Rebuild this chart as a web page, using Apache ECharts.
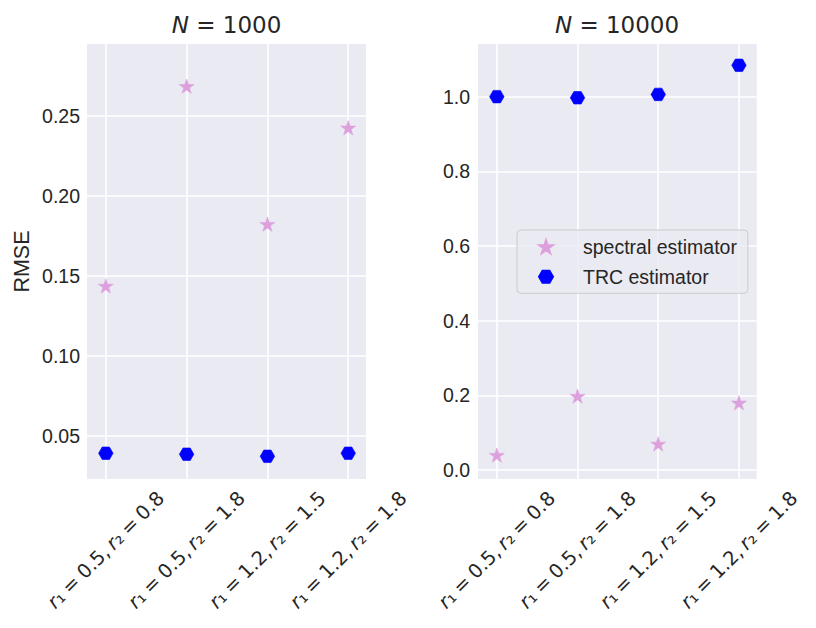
<!DOCTYPE html>
<html>
<head>
<meta charset="utf-8">
<script src="https://cdn.jsdelivr.net/npm/echarts@6/dist/echarts.min.js"></script>
<style>
html,body{margin:0;padding:0;background:#fff;}
#c{width:816px;height:628px;}
</style>
</head>
<body>
<div id="c"></div>
<script>
// ---- data ----
var categories = ['r1=0.5,r2=0.8', 'r1=0.5,r2=1.8', 'r1=1.2,r2=1.5', 'r1=1.2,r2=1.8'];
var tickLabels = [
  '{i|r}\u2081\u2005=\u20050.5,\u2009{i|r}\u2082\u2005=\u20050.8',
  '{i|r}\u2081\u2005=\u20050.5,\u2009{i|r}\u2082\u2005=\u20051.8',
  '{i|r}\u2081\u2005=\u20051.2,\u2009{i|r}\u2082\u2005=\u20051.5',
  '{i|r}\u2081\u2005=\u20051.2,\u2009{i|r}\u2082\u2005=\u20051.8'
];
var seriesNames = ['spectral estimator', 'TRC estimator'];
var panelTitles = ['{i|N} = 1000', '{i|N} = 10000'];
var spectral1000 = [0.1437, 0.2686, 0.1823, 0.2426];
var trc1000 = [0.0390, 0.0384, 0.0371, 0.0390];
var spectral10000 = [0.040, 0.198, 0.070, 0.180];
var trc10000 = [1.000, 0.997, 1.006, 1.084];
var yTicksLeft = [0.05, 0.10, 0.15, 0.20, 0.25];
var yTicksRight = [0.0, 0.2, 0.4, 0.6, 0.8, 1.0];

// ---- styling ----
var TXT = '#262626';
var BG = '#EAEAF2';
var STAR = 'path://M0,-100L22.45,-30.9L95.1,-30.9L36.3,11.8L58.8,80.9L0,38.2L-58.8,80.9L-36.3,11.8L-95.1,-30.9L-22.45,-30.9Z';
var HEX = 'path://M-100,0L-50,-86.6L50,-86.6L100,0L50,86.6L-50,86.6Z';
var xIdx = categories.map(function (_, i) { return i; });

function pairs(vals) { return vals.map(function (v, i) { return [i, v]; }); }

function xAxis(gi) {
  return {
    type: 'value', gridIndex: gi, min: -0.233, max: 3.22,
    axisLine: { show: false },
    axisTick: { show: false, customValues: xIdx },
    splitLine: { show: true, lineStyle: { color: '#ffffff', width: 1.6 } },
    axisLabel: {
      customValues: xIdx,
      rotate: 45, align: 'center', verticalAlign: 'middle', margin: 71,
      color: TXT, fontFamily: 'DejaVu Sans', fontSize: 19.5,
      formatter: function (v) { return tickLabels[Math.round(v)]; },
      rich: { i: { fontStyle: 'italic', fontFamily: 'DejaVu Sans', fontSize: 19.5, color: TXT } }
    }
  };
}
function yAxis(gi, min, max, ticks, dec, margin) {
  return {
    type: 'value', gridIndex: gi, min: min, max: max,
    axisLine: { show: false },
    axisTick: { show: false, customValues: ticks },
    splitLine: { show: true, lineStyle: { color: '#ffffff', width: 1.6 } },
    axisLabel: {
      customValues: ticks, margin: margin,
      color: TXT, fontFamily: 'Liberation Sans', fontSize: 19.5,
      formatter: function (v) { return v.toFixed(dec); }
    }
  };
}

var chart = echarts.init(document.getElementById('c'), null, { renderer: 'svg', width: 816, height: 628 });
var yLeft = yAxis(0, 0.0229, 0.295, yTicksLeft, 2, 7);
yLeft.name = 'RMSE';
yLeft.nameLocation = 'middle';
yLeft.nameGap = 54;
yLeft.nameTextStyle = { color: TXT, fontFamily: 'Liberation Sans', fontSize: 21.5 };

var starStyle = { color: '#DDA0DD', borderColor: '#DDA0DD', borderWidth: 0.6, opacity: 1 };
var hexStyle = { color: '#0000FF', borderColor: '#0000FF', borderWidth: 0.6, opacity: 1 };

chart.setOption({
  backgroundColor: '#ffffff',
  animation: false,
  textStyle: { fontFamily: 'Liberation Sans' },
  grid: [
    { left: 87, top: 44, width: 279, height: 435, show: true, backgroundColor: BG, borderWidth: 0, containLabel: false, outerBoundsMode: 'none' },
    { left: 478, top: 44, width: 278.7, height: 435, show: true, backgroundColor: BG, borderWidth: 0, containLabel: false, outerBoundsMode: 'none' }
  ],
  xAxis: [xAxis(0), xAxis(1)],
  yAxis: [yLeft, yAxis(1, -0.0241, 1.141, yTicksRight, 1, 8)],
  legend: {
    orient: 'vertical', left: 517, top: 230,
    padding: [6.7, 11, 6.6, 21],
    itemGap: 10, itemWidth: 14, itemHeight: 13,
    backgroundColor: 'rgba(234,234,242,0.8)', borderColor: '#cccccc', borderWidth: 1, borderRadius: 4,
    textStyle: { color: TXT, fontFamily: 'Liberation Sans', fontSize: 19.5, lineHeight: 20, padding: [0, 0, 0, 25] },
    data: [seriesNames[0], seriesNames[1]]
  },
  graphic: [
    { type: 'text', x: 226.5, y: 25, silent: true,
      style: { text: panelTitles[0], fill: TXT, fontFamily: 'DejaVu Sans', fontSize: 23, align: 'center', verticalAlign: 'middle',
        rich: { i: { fontStyle: 'italic', fontFamily: 'DejaVu Sans', fontSize: 23, fill: TXT } } } },
    { type: 'text', x: 617, y: 25, silent: true,
      style: { text: panelTitles[1], fill: TXT, fontFamily: 'DejaVu Sans', fontSize: 23, align: 'center', verticalAlign: 'middle',
        rich: { i: { fontStyle: 'italic', fontFamily: 'DejaVu Sans', fontSize: 23, fill: TXT } } } }
  ],
  series: [
    { name: seriesNames[0], type: 'scatter', xAxisIndex: 0, yAxisIndex: 0, data: pairs(spectral1000),
      symbol: STAR, symbolSize: [15, 14.3], itemStyle: starStyle },
    { name: seriesNames[1], type: 'scatter', xAxisIndex: 0, yAxisIndex: 0, data: pairs(trc1000),
      symbol: HEX, symbolSize: [14.5, 12.5], itemStyle: hexStyle },
    { name: seriesNames[0], type: 'scatter', xAxisIndex: 1, yAxisIndex: 1, data: pairs(spectral10000),
      symbol: STAR, symbolSize: [15, 14.3], itemStyle: starStyle },
    { name: seriesNames[1], type: 'scatter', xAxisIndex: 1, yAxisIndex: 1, data: pairs(trc10000),
      symbol: HEX, symbolSize: [14.5, 12.5], itemStyle: hexStyle }
  ]
});
</script>
</body>
</html>
